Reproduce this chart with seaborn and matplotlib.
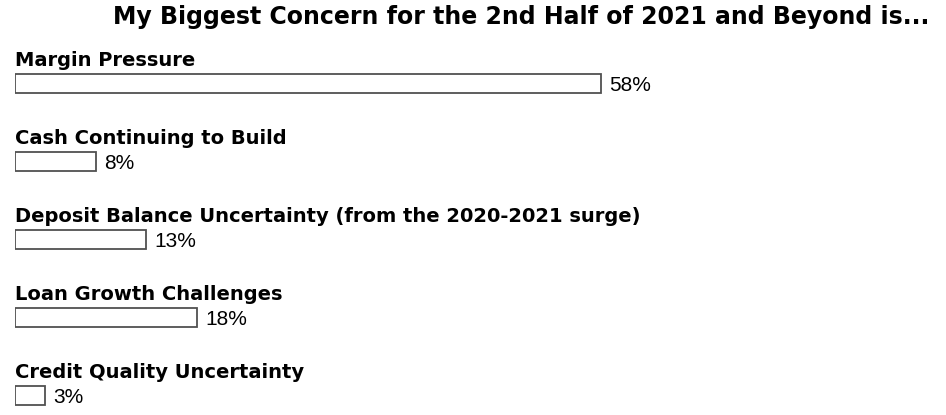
import matplotlib
matplotlib.use("Agg")
import matplotlib.pyplot as plt
import seaborn as sns
import pandas as pd

title = "My Biggest Concern for the 2nd Half of 2021 and Beyond is..."
categories = [
    "Margin Pressure",
    "Cash Continuing to Build",
    "Deposit Balance Uncertainty (from the 2020-2021 surge)",
    "Loan Growth Challenges",
    "Credit Quality Uncertainty",
]
values = [58, 8, 13, 18, 3]
value_labels = ["58%", "8%", "13%", "18%", "3%"]

df = pd.DataFrame({"category": categories, "value": values})

sns.set_theme(style="white")
plt.rcParams["font.family"] = ["DejaVu Sans"]

W, H = 946, 415
fig = plt.figure(figsize=(W / 100, H / 100), dpi=100)
fig.patch.set_facecolor("white")

left_px = 15
px_per_unit = 10.1
ax = fig.add_axes([left_px / W, 0, 1 - left_px / W, 1])
ax.set_facecolor("none")

sns.barplot(data=df, x="value", y="category", orient="h", color="white",
            saturation=1, edgecolor="#505050", linewidth=1.3, width=0.245, ax=ax)

ax.set_xlim(0, (W - left_px) / px_per_unit)
first_center = 83.5
spacing = 78.0
ax.set_ylim((H - first_center) / spacing, -first_center / spacing)
ax.axis("off")

for i, (cat, v, lab) in enumerate(zip(categories, values, value_labels)):
    ax.text(0, i - 0.224, cat, ha="left", va="baseline", fontsize=14,
            fontweight="bold", color="black")
    ax.annotate(lab, xy=(v, i), xytext=(6, 0), textcoords="offset points",
                ha="left", va="center_baseline", fontsize=15, color="black",
                family=["Liberation Sans", "DejaVu Sans"])

fig.text(521 / W, 1 - 17 / H, title, ha="center", va="center",
         fontsize=17, fontweight="bold", color="black")

fig.savefig("out.png", dpi=100, facecolor="white")
